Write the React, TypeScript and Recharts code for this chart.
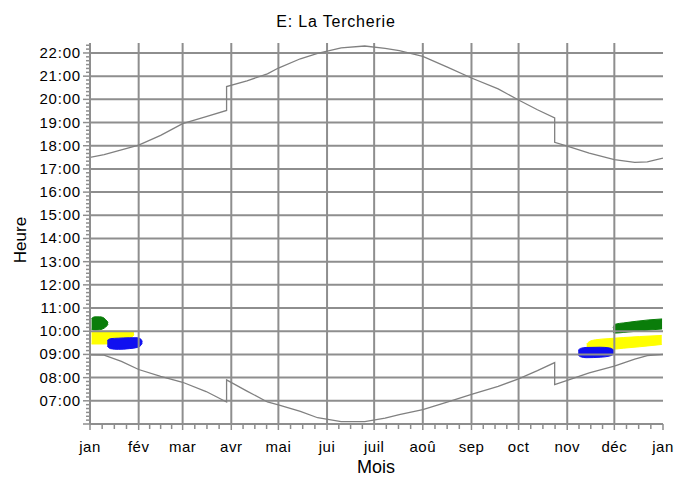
import { ComposedChart, Line, Area, XAxis, YAxis, ReferenceLine } from "recharts";

const monthLabels = ["jan", "fév", "mar", "avr", "mai", "jui", "juil", "aoû", "sep", "oct", "nov", "déc", "jan"];
const monthStarts = [0, 31, 59, 90, 120, 151, 181, 212, 243, 273, 304, 334, 365];
const hourTicks = [7, 8, 9, 10, 11, 12, 13, 14, 15, 16, 17, 18, 19, 20, 21, 22];

// lever / coucher du soleil (heure locale, saut heure d'été)
const sunDays = [0, 9, 20, 31, 45, 59, 74, 87, 87, 100, 113, 120, 134, 145, 160, 175, 188, 197, 212, 228, 243, 260, 273, 285, 296, 296, 304, 318, 334, 347, 355, 365];
const sunrise = [8.98, 8.97, 8.7, 8.35, 8.05, 7.8, 7.4, 6.95, 7.9, 7.42, 6.95, 6.82, 6.54, 6.27, 6.1, 6.1, 6.25, 6.4, 6.62, 6.95, 7.28, 7.62, 7.95, 8.3, 8.65, 7.7, 7.88, 8.2, 8.5, 8.8, 8.95, 9.0];
const sunset = [17.5, 17.62, 17.82, 18.03, 18.45, 18.95, 19.25, 19.52, 20.55, 20.8, 21.1, 21.35, 21.75, 21.98, 22.22, 22.3, 22.2, 22.1, 21.85, 21.38, 20.92, 20.45, 19.97, 19.55, 19.2, 18.15, 17.98, 17.68, 17.4, 17.28, 17.3, 17.47];

// ombres portées (début / fin)
const greenJanDays = [1, 3, 6, 8, 10, 11.5];
const greenJanLow = [10.08, 10.05, 10.06, 10.1, 10.18, 10.3];
const greenJanHigh = [10.55, 10.62, 10.62, 10.6, 10.5, 10.38];

const yellowJanDays = [1, 10, 20, 26, 28];
const yellowJanLow = [9.45, 9.45, 9.55, 9.7, 9.85];
const yellowJanHigh = [9.99, 10.0, 10.0, 9.98, 9.95];

const blueJanDays = [11, 13, 18, 25, 30, 32.5, 33.3];
const blueJanLow = [9.35, 9.25, 9.22, 9.25, 9.3, 9.4, 9.5];
const blueJanHigh = [9.6, 9.68, 9.7, 9.72, 9.72, 9.65, 9.55];

const greenDecDays = [333.2, 334.5, 340, 348, 356, 364.4];
const greenDecLow = [9.95, 9.92, 9.95, 10.0, 10.05, 10.1];
const greenDecHigh = [10.15, 10.3, 10.36, 10.43, 10.49, 10.53];

const yellowDecDays = [316.4, 318, 322, 330, 340, 350, 364.2];
const yellowDecLow = [9.3, 9.22, 9.18, 9.2, 9.27, 9.33, 9.43];
const yellowDecHigh = [9.45, 9.55, 9.63, 9.68, 9.73, 9.77, 9.82];

const blueDecDays = [311, 312.5, 316, 325, 331, 333.8];
const blueDecLow = [8.98, 8.9, 8.86, 8.88, 8.93, 9.02];
const blueDecHigh = [9.18, 9.26, 9.3, 9.31, 9.28, 9.18];

const sunData = sunDays.map((d, i) => ({ day: d, rise: sunrise[i], set: sunset[i] }));
const blob = (days: number[], low: number[], high: number[]) =>
  days.map((d, i) => ({ day: d, range: [low[i], high[i]] }));

const xTicks: number[] = [];
for (let i = 0; i < monthStarts.length - 1; i++) {
  const a = monthStarts[i];
  const b = monthStarts[i + 1];
  for (let k = 0; k < 4; k++) xTicks.push(a + ((b - a) * k) / 4);
}
xTicks.push(365);

const yTicks: number[] = [];
for (let m = 360; m <= 1345; m += 10) yTicks.push(m / 60);

const FONT = "'Liberation Sans', Arial, sans-serif";
const GRID = "#8e8e8e";

function MonthTick(props: any) {
  const { x, y, payload } = props;
  const i = monthStarts.indexOf(payload.value);
  return (
    <g>
      <line x1={x} x2={x} y1={y} y2={y + (i >= 0 ? 6 : 5)} stroke={GRID} strokeWidth={1.5} />
      {i >= 0 && (
        <text x={x} y={y + 28} textAnchor="middle" fontSize={15} fontFamily={FONT} letterSpacing={0.5} fill="#000">
          {monthLabels[i]}
        </text>
      )}
    </g>
  );
}

function HourTick(props: any) {
  const { x, y, payload } = props;
  const v = payload.value;
  const major = Math.abs(v - Math.round(v)) < 1e-6;
  const h = Math.round(v);
  return (
    <g>
      <line x1={x - (major ? 7 : 4)} x2={x} y1={y} y2={y} stroke={GRID} strokeWidth={1.5} />
      {major && h >= 7 && (
        <text x={x - 9} y={y + 5} textAnchor="end" fontSize={15} fontFamily={FONT} letterSpacing={0.8} fill="#000">
          {(h < 10 ? "0" : "") + h + ":00"}
        </text>
      )}
    </g>
  );
}

export default function App() {
  return (
    <div style={{ position: "absolute", left: 0, top: 0, background: "#fff" }}>
      <svg width={674} height={478} style={{ position: "absolute", left: 0, top: 0 }}>
        <text x={336} y={27} textAnchor="middle" fontSize={16} fontFamily={FONT} letterSpacing={0.8}>
          E: La Tercherie
        </text>
        <text x={376} y={473} textAnchor="middle" fontSize={18} fontFamily={FONT}>
          Mois
        </text>
        <text x={26} y={240} textAnchor="middle" fontSize={17} fontFamily={FONT} transform="rotate(-90 26 240)">
          Heure
        </text>
      </svg>
      <div style={{ position: "absolute", left: 0, top: 0 }}>
        <ComposedChart width={674} height={478} margin={{ top: 43, right: 11, bottom: 0, left: 0 }}>
          <XAxis
            dataKey="day"
            type="number"
            domain={[0, 365]}
            ticks={xTicks}
            interval={0}
            tick={<MonthTick />}
            tickLine={false}
            tickSize={0}
            tickMargin={0}
            height={54}
            axisLine={{ stroke: GRID, strokeWidth: 2 }}
            allowDataOverflow
          />
          <YAxis
            type="number"
            domain={[6, 22.43]}
            ticks={yTicks}
            interval={0}
            tick={<HourTick />}
            tickLine={false}
            tickSize={0}
            tickMargin={0}
            width={90}
            axisLine={{ stroke: GRID, strokeWidth: 2 }}
            allowDataOverflow
          />
          {monthStarts.slice(1, -1).map((d) => (
            <ReferenceLine key={"v" + d} x={d} stroke={GRID} strokeWidth={2} />
          ))}
          {hourTicks.map((h) => (
            <ReferenceLine key={"h" + h} y={h} stroke={GRID} strokeWidth={2} />
          ))}
          <Area data={blob(yellowJanDays, yellowJanLow, yellowJanHigh)} dataKey="range" type="monotone" stroke="#ffff00" fill="#ffff00" fillOpacity={1} strokeWidth={1} isAnimationActive={false} />
          <Area data={blob(yellowDecDays, yellowDecLow, yellowDecHigh)} dataKey="range" type="monotone" stroke="#ffff00" fill="#ffff00" fillOpacity={1} strokeWidth={1} isAnimationActive={false} />
          <Area data={blob(greenJanDays, greenJanLow, greenJanHigh)} dataKey="range" type="monotone" stroke="#0a7d0a" fill="#0a7d0a" fillOpacity={1} strokeWidth={1} isAnimationActive={false} />
          <Area data={blob(greenDecDays, greenDecLow, greenDecHigh)} dataKey="range" type="monotone" stroke="#0a7d0a" fill="#0a7d0a" fillOpacity={1} strokeWidth={1} isAnimationActive={false} />
          <Area data={blob(blueJanDays, blueJanLow, blueJanHigh)} dataKey="range" type="monotone" stroke="#1010f0" fill="#1010f0" fillOpacity={1} strokeWidth={1} isAnimationActive={false} />
          <Area data={blob(blueDecDays, blueDecLow, blueDecHigh)} dataKey="range" type="monotone" stroke="#1010f0" fill="#1010f0" fillOpacity={1} strokeWidth={1} isAnimationActive={false} />
          <Line data={sunData} dataKey="rise" type="linear" stroke="#808080" strokeWidth={1.3} dot={false} isAnimationActive={false} />
          <Line data={sunData} dataKey="set" type="linear" stroke="#808080" strokeWidth={1.3} dot={false} isAnimationActive={false} />
        </ComposedChart>
      </div>
    </div>
  );
}
